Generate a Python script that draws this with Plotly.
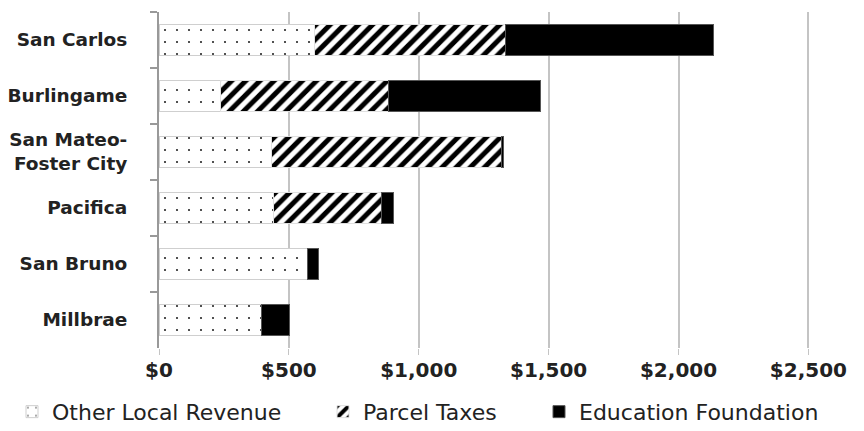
import plotly.graph_objects as go

districts = ["San Carlos", "Burlingame", "San Mateo-<br>Foster City", "Pacifica", "San Bruno", "Millbrae"]
other_local = [600, 235, 432, 440, 571, 394]
parcel_taxes = [735, 648, 888, 417, 0, 0]
education_foundation = [800, 587, 6, 46, 42, 107]
x_ticks = [0, 500, 1000, 1500, 2000, 2500]
x_labels = ["$0", "$500", "$1,000", "$1,500", "$2,000", "$2,500"]

FONT = "DejaVu Sans"
TXT = "#222222"
W, H = 856, 423

fig = go.Figure()
fig.add_trace(go.Bar(
    y=districts, x=other_local, orientation="h", name="Other Local Revenue", legend="legend",
    marker=dict(color="white", line=dict(color="#cfcfcf", width=1),
                pattern=dict(shape=".", fgcolor="black", bgcolor="white", fgopacity=0.85,
                             size=12, solidity=0.025)),
))
fig.add_trace(go.Bar(
    y=districts, x=parcel_taxes, orientation="h", name="Parcel Taxes", legend="legend2",
    marker=dict(color="white", line=dict(color="#e0e0e0", width=1),
                pattern=dict(shape="/", fgcolor="#000000", bgcolor="white", fgopacity=1,
                             size=10, solidity=0.5)),
))
fig.add_trace(go.Bar(
    y=districts, x=education_foundation, orientation="h", name="Education Foundation", legend="legend3",
    marker=dict(color="black", line=dict(color="#555555", width=1)),
))

def leg(xpix):
    return dict(orientation="h", xref="container", x=xpix / W, xanchor="left",
                yref="paper", y=-0.19, yanchor="middle",
                font=dict(size=22, family=FONT, color=TXT), itemwidth=30,
                bgcolor="rgba(0,0,0,0)")

fig.update_layout(
    barmode="stack",
    bargap=0.43,
    showlegend=True,
    width=W, height=H,
    margin=dict(l=151, r=54, t=4, b=83, autoexpand=False),
    paper_bgcolor="white", plot_bgcolor="white",
    font=dict(family=FONT, color=TXT),
    legend=leg(4), legend2=leg(315), legend3=leg(531),
    xaxis=dict(range=[0, 2506], tickvals=x_ticks, ticktext=x_labels,
               showgrid=True, gridcolor="#c4c4c4", gridwidth=1.5,
               ticks="outside", ticklen=6, tickcolor="#c4c4c4",
               tickfont=dict(size=20, family=FONT, color=TXT, weight="bold"),
               ticklabelstandoff=-2,
               zeroline=False, showline=False, automargin=False),
    yaxis=dict(autorange="reversed", showline=True, linecolor="#999999", linewidth=2,
               ticks="outside", tickson="boundaries", ticklen=7, tickcolor="#999999", tickwidth=2,
               tickfont=dict(size=18.5, family=FONT, color=TXT, weight="bold"),
               ticklabelstandoff=26, automargin=False),
    yaxis2=dict(overlaying="y", matches="y", side="left", showticklabels=False,
                ticks="inside", tickson="boundaries", ticklen=7, tickcolor="#999999", tickwidth=2,
                showgrid=False, showline=False, automargin=False),
)

fig.write_html("out.html")
